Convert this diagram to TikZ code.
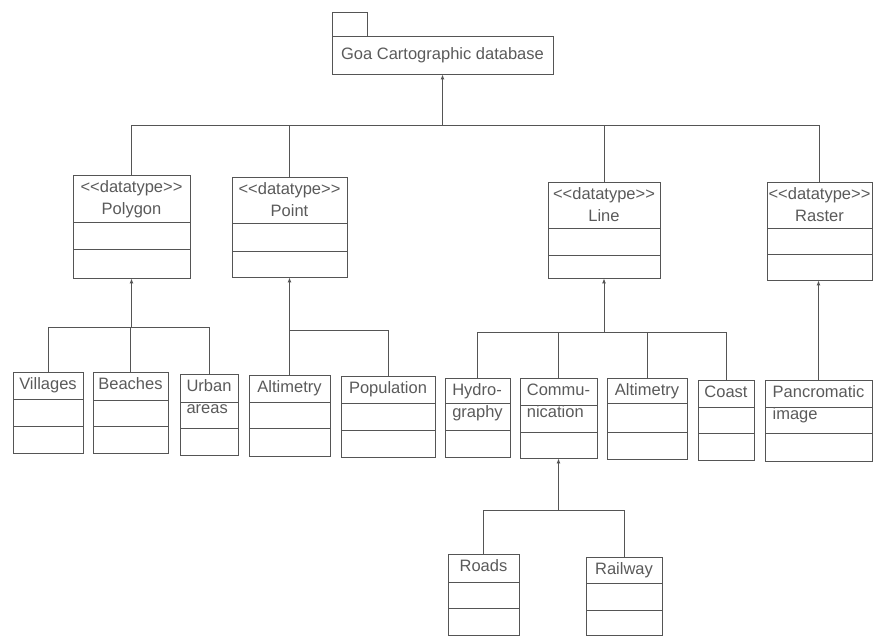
\documentclass[tikz,border=0pt]{standalone}
\usepackage{fontspec}
\setmainfont{Liberation Sans}
\usetikzlibrary{arrows.meta,fit}

\definecolor{trait}{HTML}{555555}
\definecolor{texte}{HTML}{5A5A5A}

\tikzset{
    box/.style={draw=trait, line width=0.9pt, inner sep=0pt},
    titre/.style={text=texte, inner sep=0pt, anchor=north, yshift=-6pt,
        font=\fontsize{16.5}{22}\selectfont},
    lien/.style={draw=trait, line width=0.9pt},
    herite/.style={lien, -{Latex[length=5pt,width=4pt]}},
}

% classe: [alignement] nom, coin haut gauche, coin bas droit, deux separations, titre
\newcommand{\classe}[9][align=left]{%
    \node[box, fit={(#3,#4) (#5,#6)}] (#2) {};
    \draw[lien] (#3,#7) -- (#5,#7);
    \draw[lien] (#3,#8) -- (#5,#8);
    \node[titre, #1] (#2-t) at (#2.north) {#9};
}

\begin{document}
\begin{tikzpicture}[x=1pt, y=-1pt]
    \useasboundingbox (0,0) rectangle (873,636);

    % Paquetage
    \node[box, fit={(332,36) (553,74)}] (goa) {};
    \node[box, fit={(332,12) (367,36)}] (tab) {};
    \node[text=texte, font=\fontsize{16.5}{22}\selectfont] (goa-t) at (goa.center) {Goa Cartographic database};

    % Types de donnees
    \classe[align=center]{poly}{73}{175}{190}{278}{222}{249}{<{}<datatype>{}>\\Polygon}
    \classe[align=center]{point}{232}{177}{347}{277}{223}{251}{<{}<datatype>{}>\\Point}
    \classe[align=center]{line}{548}{182}{660}{278}{228}{255}{<{}<datatype>{}>\\Line}
    \classe[align=center]{raster}{767}{182}{872}{280}{228}{254}{<{}<datatype>{}>\\Raster}

    % Classes
    \classe{vil}{13}{372}{83}{453}{399}{426}{Villages}
    \classe{bea}{93}{372}{168}{453}{400}{426}{Beaches}
    \classe{urb}{180}{374}{238}{455}{402}{428}{Urban\\areas}
    \classe{alt}{249}{375}{330}{456}{402}{428}{Altimetry}
    \classe{pop}{341}{376}{435}{457}{403}{430}{Population}
    \classe{hyd}{445}{378}{510}{457}{403}{430}{Hydro-\\graphy}
    \classe{com}{520}{378}{597}{458}{405}{432}{Commu-\\nication}
    \classe{altl}{607}{378}{687}{459}{403}{432}{Altimetry}
    \classe{coa}{698}{380}{754}{460}{407}{433}{Coast}
    \classe{pan}{765}{380}{872}{461}{407}{433}{Pancromatic\\image}
    \classe{road}{448}{554}{519}{635}{582}{608}{Roads}
    \classe{rail}{586}{557}{662}{635}{583}{610}{Railway}

    % Heritage vers le paquetage
    \foreach \c in {poly,point,line,raster} {
        \draw[lien] (\c.north) -- (\c.north |- 0,125);
    }
    \draw[lien] (poly.north |- 0,125) -- (raster.north |- 0,125);
    \draw[herite] (goa.south |- 0,125) -- (goa.south);

    % Heritage vers Polygon
    \foreach \c in {vil,bea,urb} {
        \draw[lien] (\c.north) -- (\c.north |- 0,327);
    }
    \draw[lien] (vil.north |- 0,327) -- (urb.north |- 0,327);
    \draw[herite] (poly.south |- 0,327) -- (poly.south);

    % Heritage vers Point
    \foreach \c in {alt,pop} {
        \draw[lien] (\c.north) -- (\c.north |- 0,330);
    }
    \draw[lien] (alt.north |- 0,330) -- (pop.north |- 0,330);
    \draw[herite] (point.south |- 0,330) -- (point.south);

    % Heritage vers Line
    \foreach \c in {hyd,com,altl,coa} {
        \draw[lien] (\c.north) -- (\c.north |- 0,332);
    }
    \draw[lien] (hyd.north |- 0,332) -- (coa.north |- 0,332);
    \draw[herite] (line.south |- 0,332) -- (line.south);

    % Heritage vers Raster
    \draw[herite] (pan.north) -- (pan.north |- raster.south);

    % Heritage vers Communication
    \foreach \c in {road,rail} {
        \draw[lien] (\c.north) -- (\c.north |- 0,510);
    }
    \draw[lien] (road.north |- 0,510) -- (rail.north |- 0,510);
    \draw[herite] (com.south |- 0,510) -- (com.south);

\end{tikzpicture}
\end{document}
